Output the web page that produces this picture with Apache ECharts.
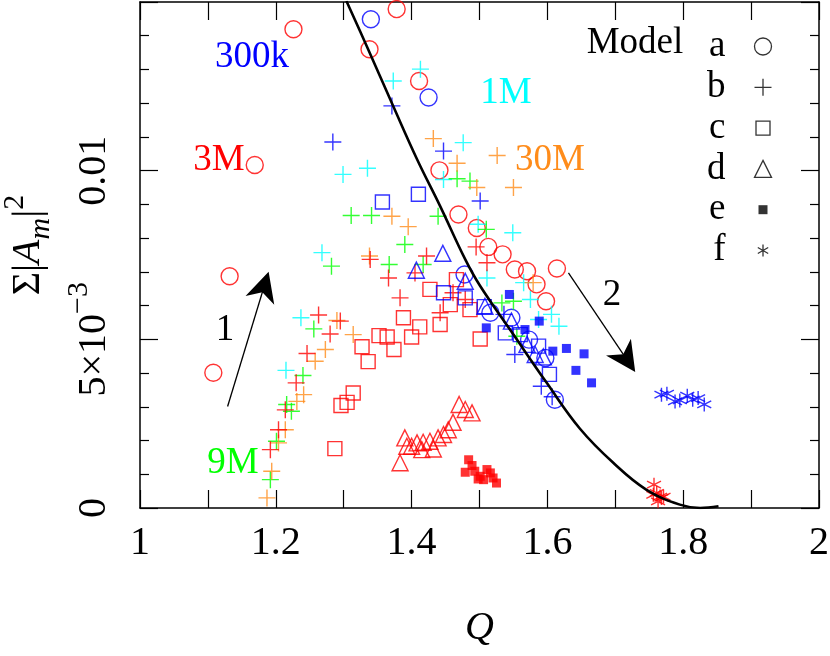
<!DOCTYPE html>
<html>
<head>
<meta charset="utf-8">
<script src="https://cdn.jsdelivr.net/npm/echarts@6/dist/echarts.min.js"></script>
<style>
  html, body { margin: 0; padding: 0; background: #fff; }
  #chart { width: 830px; height: 656px; }
</style>
</head>
<body>
<div id="chart"></div>
<script>
const FONT = 'Liberation Serif';
const RED = '#ff0000', BLUE = '#0000ff', CYAN = '#00ffff', GREEN = '#00ff00', ORANGE = '#ff8c1a';

// tick labels
const xTickLabels = ['1', '1.2', '1.4', '1.6', '1.8', '2'];
const yTickLabels = ['{n|0}', '{n|5×10}{s|−3}', '{n|0.01}'];

// model a: open circles
const circlesRed = [[1.226, 0.01419], [1.338, 0.01360], [1.169, 0.01017], [1.378, 0.01479], [1.411, 0.01266],
  [1.441, 0.01001], [1.469, 0.00870], [1.496, 0.00830], [1.513, 0.00774], [1.534, 0.00752], [1.552, 0.00707],
  [1.570, 0.00702], [1.584, 0.00663], [1.598, 0.00613], [1.614, 0.00710], [1.132, 0.00687], [1.108, 0.00401]];
const circlesBlue = [[1.340, 0.01449], [1.425, 0.01217], [1.478, 0.00692], [1.516, 0.00579], [1.547, 0.00564],
  [1.573, 0.00499], [1.597, 0.00445], [1.611, 0.00321]];

// model b: plus
const plusBlue = [[1.284, 0.01085], [1.371, 0.01192], [1.447, 0.01058], [1.501, 0.00910], [1.536, 0.00574],
  [1.552, 0.00455], [1.591, 0.00361], [1.607, 0.00330]];
const plusCyan = [[1.299, 0.00989], [1.335, 0.01007], [1.268, 0.00757], [1.373, 0.01266], [1.413, 0.01301],
  [1.476, 0.01083], [1.447, 0.00974], [1.498, 0.00841], [1.549, 0.00816], [1.511, 0.00682], [1.565, 0.00668],
  [1.575, 0.00618], [1.606, 0.00574], [1.617, 0.00539], [1.587, 0.00559], [1.237, 0.00564], [1.215, 0.00408]];
const plusGreen = [[1.311, 0.00867], [1.341, 0.00867], [1.467, 0.00976], [1.486, 0.00969], [1.439, 0.00865],
  [1.390, 0.00781], [1.510, 0.00826], [1.367, 0.00722], [1.417, 0.00722], [1.533, 0.00608], [1.550, 0.00613],
  [1.555, 0.00509], [1.282, 0.00717], [1.256, 0.00531], [1.240, 0.00393], [1.216, 0.00307], [1.223, 0.00287],
  [1.201, 0.00198], [1.192, 0.00084]];
const plusRed = [[1.422, 0.00747], [1.511, 0.00727], [1.366, 0.00682], [1.405, 0.00697], [1.383, 0.00623],
  [1.442, 0.00579], [1.479, 0.00618], [1.461, 0.00638], [1.495, 0.00774], [1.339, 0.00737], [1.263, 0.00572],
  [1.280, 0.00516], [1.295, 0.00554], [1.246, 0.00458], [1.230, 0.00371], [1.214, 0.00291], [1.204, 0.00232],
  [1.192, 0.00173]];
const plusOrange = [[1.432, 0.01095], [1.467, 0.01022], [1.526, 0.01045], [1.496, 0.00950], [1.550, 0.00950],
  [1.371, 0.00865], [1.395, 0.00834], [1.579, 0.00668], [1.338, 0.00747], [1.290, 0.00556], [1.314, 0.00514],
  [1.273, 0.00470], [1.258, 0.00435], [1.241, 0.00336], [1.231, 0.00316], [1.214, 0.00232], [1.204, 0.00193],
  [1.194, 0.00109], [1.187, 0.00030]];

// model c: open squares
const squaresBlue = [[1.357, 0.00907], [1.410, 0.00930], [1.447, 0.00638], [1.479, 0.00623], [1.507, 0.00597],
  [1.538, 0.00519], [1.560, 0.00514], [1.587, 0.00480], [1.603, 0.00396]];
const squaresRed = [[1.352, 0.00511], [1.364, 0.00507], [1.374, 0.00470], [1.327, 0.00478], [1.336, 0.00434],
  [1.388, 0.00564], [1.412, 0.00537], [1.400, 0.00507], [1.427, 0.00648], [1.442, 0.00544], [1.457, 0.00603],
  [1.466, 0.00677], [1.486, 0.00588], [1.501, 0.00501], [1.314, 0.00341], [1.305, 0.00313], [1.296, 0.00304],
  [1.287, 0.00176]];

// model d: open triangles
const trianglesBlue = [[1.446, 0.00755], [1.407, 0.00705], [1.479, 0.00672], [1.508, 0.00598], [1.547, 0.00554],
  [1.570, 0.00485], [1.582, 0.00455], [1.594, 0.00448]];
const trianglesRed = [[1.470, 0.00307], [1.479, 0.00292], [1.489, 0.00282], [1.461, 0.00254], [1.454, 0.00232],
  [1.447, 0.00218], [1.439, 0.00208], [1.427, 0.00198], [1.417, 0.00195], [1.408, 0.00193], [1.400, 0.00183],
  [1.390, 0.00208], [1.383, 0.00134], [1.393, 0.00183], [1.432, 0.00175], [1.415, 0.00173]];

// model e: filled squares
const filledBlue = [[1.544, 0.00633], [1.588, 0.00554], [1.510, 0.00534], [1.567, 0.00529], [1.608, 0.00465],
  [1.628, 0.00473], [1.654, 0.00457], [1.642, 0.00408], [1.665, 0.00371]];
const filledRed = [[1.484, 0.00143], [1.489, 0.00126], [1.479, 0.00106], [1.493, 0.00109], [1.501, 0.00094],
  [1.511, 0.00114], [1.516, 0.00104], [1.520, 0.00089], [1.525, 0.00074], [1.506, 0.00084], [1.498, 0.00086]];

// model f: asterisks
const starsBlue = [[1.768, 0.00336], [1.776, 0.00339], [1.788, 0.00316], [1.795, 0.00319], [1.806, 0.00333],
  [1.814, 0.00321], [1.822, 0.00326], [1.831, 0.00307]];
const starsRed = [[1.757, 0.00069], [1.761, 0.00045], [1.766, 0.00034], [1.756, 0.00039], [1.768, 0.00030],
  [1.763, 0.00020], [1.771, 0.00034]];

// black curve
const curve = [[1.304, 0.01503], [1.334, 0.01369], [1.373, 0.01191], [1.408, 0.01034], [1.442, 0.00895],
  [1.479, 0.00737], [1.501, 0.00658], [1.550, 0.00514], [1.599, 0.00371], [1.648, 0.00235], [1.697, 0.00134],
  [1.746, 0.00054], [1.795, 0.00010], [1.825, 0.00000], [1.852, 0.00005]];

// arrows 1 and 2: [start, end]
const arrows = [
  [[1.129, 0.00301], [1.183, 0.00658]],
  [[1.631, 0.00697], [1.717, 0.00440]]
];

const annotations = [
  { text: '300k', x: 252, y: 57, color: BLUE },
  { text: '1M', x: 506, y: 93, color: CYAN },
  { text: '3M', x: 219, y: 160, color: RED },
  { text: '30M', x: 550, y: 160, color: ORANGE },
  { text: '9M', x: 233, y: 463, color: GREEN },
  { text: '1', x: 225, y: 330, color: '#000' },
  { text: '2', x: 612, y: 295, color: '#000' },
  { text: 'Model', x: 635, y: 43, color: '#000' }
];

const SYM = {
  plus: 'path://M0,8L16,8M8,0L8,16',
  star: 'path://M8,0L8,16M1.07,4L14.93,12M1.07,12L14.93,4',
  arrow: 'path://M13,0L26,32L13,23L0,32Z'
};

function markers(name, data, color, symbol, size, filled) {
  return {
    name: name,
    type: 'scatter',
    data: data,
    symbol: symbol,
    symbolSize: size,
    itemStyle: filled
      ? { color: color, borderWidth: 0 }
      : { color: 'none', borderColor: color, borderWidth: 1.4 },
    emphasis: { disabled: true }
  };
}

const legendBlack = { color: 'none', borderColor: '#000', borderWidth: 1.3 };

const chart = echarts.init(document.getElementById('chart'));

chart.setOption({
  animation: false,
  grid: { left: 140, right: 11, top: 2, bottom: 148, outerBoundsMode: 'none' },
  legend: {
    orient: 'vertical',
    right: 56,
    top: 28,
    padding: 0,
    align: 'right',
    itemWidth: 17,
    itemHeight: 17,
    itemGap: 3.8,
    selectedMode: false,
    textStyle: { fontFamily: FONT, fontSize: 37, color: '#000', lineHeight: 30, padding: [0, 24, 0, 0] },
    data: [
      { name: 'a', icon: 'circle', itemStyle: legendBlack },
      { name: 'b', icon: SYM.plus, itemStyle: legendBlack },
      { name: 'c', icon: 'path://M0,0M17,17M1.5,1.5L15.5,1.5L15.5,15.5L1.5,15.5Z', itemStyle: legendBlack },
      { name: 'd', icon: 'triangle', itemStyle: legendBlack },
      { name: 'e', icon: 'path://M0,0M17,17M4,4L13,4L13,13L4,13Z', itemStyle: { color: '#000', borderWidth: 0 } },
      { name: 'f', icon: 'path://M0,0M17,17M8.5,2.5L8.5,14.5M3.3,5.5L13.7,11.5M3.3,11.5L13.7,5.5', itemStyle: legendBlack }
    ]
  },
  xAxis: [
    {
      type: 'value', min: 1, max: 2, interval: 0.1, position: 'bottom',
      axisLine: { onZero: false, lineStyle: { color: '#000', width: 1.5 } },
      axisTick: { inside: true, length: 18, lineStyle: { color: '#000', width: 1.2 } },
      splitLine: { show: false },
      axisLabel: {
        margin: 15, fontFamily: FONT, fontSize: 40, color: '#000',
        formatter: function (v) {
          const k = Math.round(v * 10);
          return k % 2 ? '' : xTickLabels[(k - 10) / 2];
        }
      },
      name: 'Q', nameLocation: 'middle', nameGap: 100,
      nameTextStyle: { fontFamily: FONT, fontSize: 40, fontStyle: 'italic', color: '#000' }
    },
    {
      type: 'value', min: 1, max: 2, interval: 0.1, position: 'top',
      axisLine: { onZero: false, lineStyle: { color: '#000', width: 1.5 } },
      axisTick: { inside: true, length: 18, lineStyle: { color: '#000', width: 1.2 } },
      splitLine: { show: false },
      axisLabel: { show: false }
    }
  ],
  yAxis: [
    {
      type: 'value', min: 0, max: 0.015, interval: 0.005, position: 'left',
      axisLine: { onZero: false, lineStyle: { color: '#000', width: 1.5 } },
      axisTick: { inside: true, length: 18, lineStyle: { color: '#000', width: 1.2 } },
      minorTick: { show: true, splitNumber: 5, length: 9, lineStyle: { color: '#000', width: 1.2 } },
      splitLine: { show: false },
      axisLabel: {
        rotate: 90, margin: 16, color: '#000',
        formatter: function (v) {
          const k = Math.round(v * 200);
          return k < yTickLabels.length ? yTickLabels[k] : '';
        },
        rich: {
          n: { fontFamily: FONT, fontSize: 40, lineHeight: 60, color: '#000' },
          s: { fontFamily: FONT, fontSize: 30, lineHeight: 30, verticalAlign: 'top', color: '#000' }
        }
      },
      name: '{t|Σ|}{i|A}{sub|m}{t||}{sup|2}',
      nameLocation: 'middle', nameGap: 79, nameRotate: 90,
      nameTextStyle: {
        padding: [0, 0, 0, 20],
        rich: {
          t: { fontFamily: FONT, fontSize: 40, lineHeight: 56, color: '#000' },
          i: { fontFamily: FONT, fontSize: 40, lineHeight: 56, fontStyle: 'italic', color: '#000' },
          sub: { fontFamily: FONT, fontSize: 30, lineHeight: 30, fontStyle: 'italic', verticalAlign: 'bottom', color: '#000' },
          sup: { fontFamily: FONT, fontSize: 30, lineHeight: 30, verticalAlign: 'top', color: '#000' }
        }
      }
    },
    {
      type: 'value', min: 0, max: 0.015, interval: 0.005, position: 'right',
      axisLine: { onZero: false, lineStyle: { color: '#000', width: 1.5 } },
      axisTick: { inside: true, length: 18, lineStyle: { color: '#000', width: 1.2 } },
      minorTick: { show: true, splitNumber: 5, length: 9, lineStyle: { color: '#000', width: 1.2 } },
      splitLine: { show: false },
      axisLabel: { show: false }
    }
  ],
  graphic: annotations.map(function (a) {
    return {
      type: 'text', x: a.x, y: a.y, silent: true,
      style: {
        text: a.text, fill: a.color, align: 'center', verticalAlign: 'middle',
        font: '37px "' + FONT + '"'
      }
    };
  }),
  series: [
    // empty series only for the black legend entries
    { name: 'a', type: 'scatter', data: [] },
    { name: 'b', type: 'scatter', data: [] },
    { name: 'c', type: 'scatter', data: [] },
    { name: 'd', type: 'scatter', data: [] },
    { name: 'e', type: 'scatter', data: [] },
    { name: 'f', type: 'scatter', data: [] },

    markers('a-red', circlesRed, RED, 'circle', 17, false),
    markers('a-blue', circlesBlue, BLUE, 'circle', 17, false),
    markers('b-cyan', plusCyan, CYAN, SYM.plus, 17, false),
    markers('b-green', plusGreen, GREEN, SYM.plus, 17, false),
    markers('b-orange', plusOrange, ORANGE, SYM.plus, 17, false),
    markers('b-red', plusRed, RED, SYM.plus, 17, false),
    markers('b-blue', plusBlue, BLUE, SYM.plus, 17, false),
    markers('c-red', squaresRed, RED, 'rect', 14, false),
    markers('c-blue', squaresBlue, BLUE, 'rect', 14, false),
    markers('d-red', trianglesRed, RED, 'triangle', 16, false),
    markers('d-blue', trianglesBlue, BLUE, 'triangle', 16, false),
    markers('e-red', filledRed, RED, 'rect', 9, true),
    markers('e-blue', filledBlue, BLUE, 'rect', 9, true),
    markers('f-red', starsRed, RED, SYM.star, 14, false),
    markers('f-blue', starsBlue, BLUE, SYM.star, 14, false),

    {
      name: 'curve',
      type: 'line',
      data: curve,
      smooth: 0.4,
      showSymbol: false,
      lineStyle: { color: '#000', width: 2.6 },
      emphasis: { disabled: true },
      markLine: {
        silent: true,
        symbol: ['none', SYM.arrow],
        symbolSize: 30,
        label: { show: false },
        itemStyle: { color: '#000' },
        lineStyle: { color: '#000', width: 1.3, type: 'solid' },
        data: arrows.map(function (a) { return [{ coord: a[0] }, { coord: a[1] }]; })
      }
    }
  ]
});
</script>
</body>
</html>
